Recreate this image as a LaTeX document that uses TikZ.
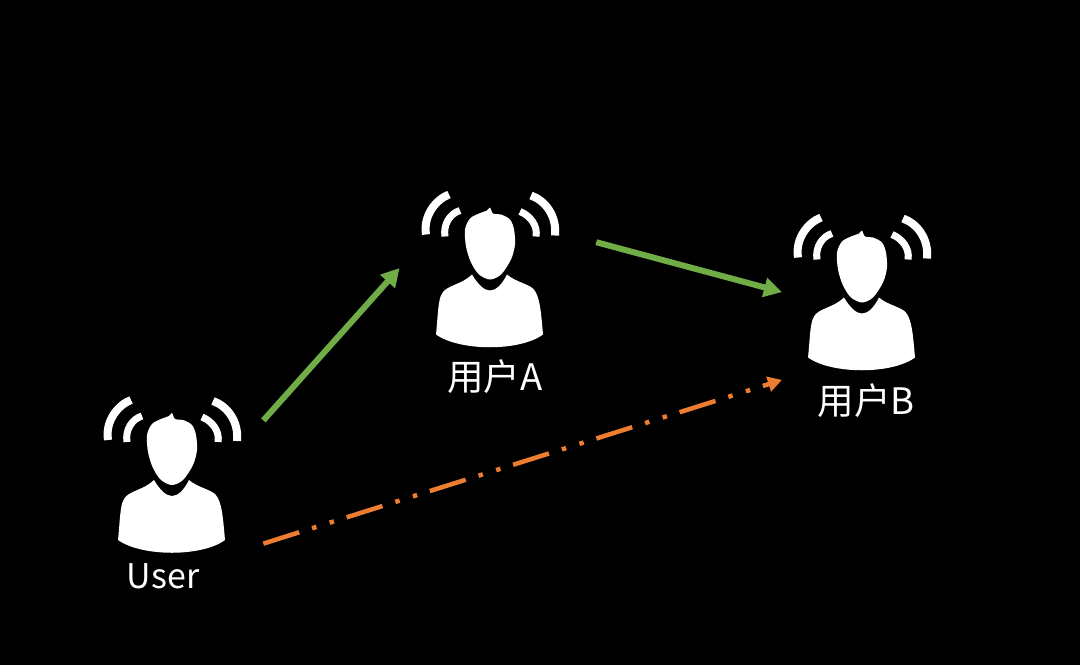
\documentclass[tikz,border=0pt]{standalone}
\usepackage{fontspec}
\setmainfont{Noto Sans CJK SC}
\usetikzlibrary{arrows.meta,positioning}

\definecolor{linkgreen}{HTML}{70AD47}
\definecolor{linkorange}{HTML}{ED7D31}

\tikzset{
  person/.pic={
    \fill[white] plot[smooth cycle, tension=0.5] coordinates {(0,0) (3,6) (11,7) (20,12) (24,22) (25,37)
      (21,52) (11,67) (0,72) (-11,67) (-19,55) (-24,39) (-25,22) (-20,11) (-11,6) (-3,3)};
    \fill[white] (-18,67) .. controls (-12,77) and (-6,83) .. (0,83)
      .. controls (6,83) and (12,77) .. (17,67) .. controls (25,74) and (37,76) .. (43,81)
      .. controls (50,88) and (51,105) .. (53,127) .. controls (30,144) and (-30,144) .. (-54,127)
      .. controls (-52,108) and (-52,92) .. (-48,86) .. controls (-44,78) and (-28,77) .. (-18,67) -- cycle;
    \draw[wave] (-41,-13) .. controls (-54,-8) and (-67,8) .. (-64,27);
    \draw[wave, line width=7pt] (-30,3) .. controls (-40,6) and (-47,17) .. (-45,29);
    \draw[wave] (41,-12) .. controls (55,-7) and (67,8) .. (65,28);
    \draw[wave, line width=7pt] (30,4) .. controls (40,8) and (48,18) .. (46,29);
  }
}

\begin{document}
\begin{tikzpicture}[
  x=1pt, y=-1pt,
  wave/.style={white, line width=8pt},
  zone/.style={circle, inner sep=0pt, minimum size=#1},
  caption/.style={text=white, font=\fontsize{36.5}{40}\selectfont, inner sep=0pt},
  greenlink/.style={-{Triangle[length=18pt,width=19pt]}, linkgreen, line width=6pt},
  orangelink/.style={-{Triangle[length=14pt,width=15pt]}, linkorange, line width=4.5pt,
    dash pattern=on 37.6pt off 13.5pt on 4.5pt off 13.9pt on 4.5pt off 13.3pt}
]
\fill[black] (0,0) rectangle (1080,665);
\useasboundingbox (0,0) rectangle (1080,665);

\pic at (172,413) {person};
\pic at (490,207.5) {person};
\pic at (862,230.5) {person};

\node[caption, font=\fontsize{34}{40}\selectfont] (user) at (163,576) {User};
\node[caption] (userA) at (495,377) {用户A};
\node[caption] (userB) at (866,401) {用户B};

% invisible zones round the icons, the links run between them
\node[zone=220pt] (userZone) at (172,482) {};
\node[zone=198pt] (userAZone) at (498,256) {};
\node[zone=200pt] (userBZone) at (872,336) {};

\draw[greenlink] (userZone.34.3) -- (userAZone.187.6);
\draw[greenlink] (userAZone.8.1) -- (userBZone.154.2);
\draw[orangelink] (userZone.-34.3) -- (userBZone.206.3);
\end{tikzpicture}
\end{document}
